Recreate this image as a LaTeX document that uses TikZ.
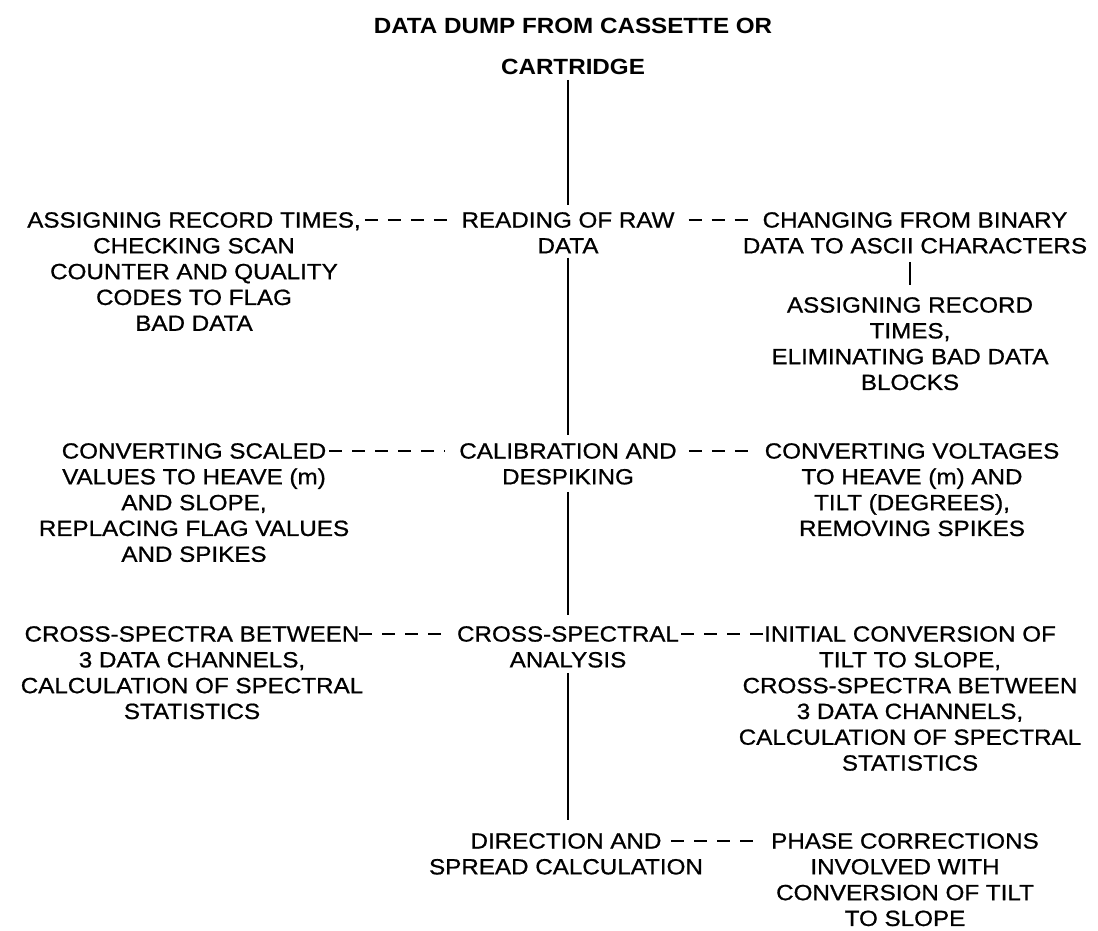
\documentclass[tikz,border=0pt]{standalone}
\usepackage{fontspec}
\setmainfont{Liberation Sans}[FakeStretch=1.1,UprightFeatures={FakeBold=0.8}]

\begin{document}
\begin{tikzpicture}[x=1pt,y=-1pt,
    proc/.style={anchor=north,align=center,font={\fontsize{22}{25.8}\selectfont}},
    dumptitle/.style={anchor=north,align=center,font={\fontsize{22}{41}\selectfont\bfseries}},
    flow/.style={black,line width=2.4pt},
    link/.style={black,line width=2.2pt,dash pattern=on 13pt off 10pt}]
    \tikzstyle{every node}+=[inner sep=0pt]
    \useasboundingbox (0,0) rectangle (1098,930);
    \node [dumptitle] (dump) at (573,18) {DATA DUMP FROM CASSETTE OR\\CARTRIDGE};
    \node [proc] (asgn) at (194,212) {ASSIGNING RECORD TIMES,\\CHECKING SCAN\\COUNTER AND QUALITY\\CODES TO FLAG\\BAD DATA};
    \node [proc] (raw) at (568,212) {READING OF RAW\\DATA};
    \node [proc] (binary) at (915,212) {CHANGING FROM BINARY\\DATA TO ASCII CHARACTERS};
    \node [proc] (times) at (910,297) {ASSIGNING RECORD\\TIMES,\\ELIMINATING BAD DATA\\BLOCKS};
    \node [proc] (scaled) at (194,443) {CONVERTING SCALED\\VALUES TO HEAVE (m)\\AND SLOPE,\\REPLACING FLAG VALUES\\AND SPIKES};
    \node [proc] (calib) at (568,443) {CALIBRATION AND\\DESPIKING};
    \node [proc] (volt) at (912,443) {CONVERTING VOLTAGES\\TO HEAVE (m) AND\\TILT (DEGREES),\\REMOVING SPIKES};
    \node [proc] (xspec) at (192,626) {CROSS-SPECTRA BETWEEN\\3 DATA CHANNELS,\\CALCULATION OF SPECTRAL\\STATISTICS};
    \node [proc] (spectral) at (568,626) {CROSS-SPECTRAL\\ANALYSIS};
    \node [proc] (tilt) at (910,626) {INITIAL CONVERSION OF\\TILT TO SLOPE,\\CROSS-SPECTRA BETWEEN\\3 DATA CHANNELS,\\CALCULATION OF SPECTRAL\\STATISTICS};
    \node [proc] (dir) at (566,833) {DIRECTION AND\\SPREAD CALCULATION};
    \node [proc] (phase) at (905,833) {PHASE CORRECTIONS\\INVOLVED WITH\\CONVERSION OF TILT\\TO SLOPE};
    \draw [flow,shorten <=5pt,shorten >=7pt] (dump.south -| raw.north) -- (raw.north);
    \draw [flow,shorten <=4pt,shorten >=8pt] (raw.south) -- (calib.north);
    \draw [flow,shorten <=7pt,shorten >=11pt] (calib.south) -- (spectral.north);
    \draw [flow,shorten <=5pt,shorten >=13pt] (spectral.south) -- (dir.north -| spectral.south);
    \draw [flow,shorten <=8pt,shorten >=12pt] (binary.south -| times.north) -- (times.north);
    \draw [link] ([xshift=4pt,yshift=-8pt]asgn.north east) -- ([xshift=-8pt,yshift=-8pt]raw.north west);
    \draw [link] ([xshift=14pt,yshift=-8pt]raw.north east) -- ([xshift=11pt,yshift=-8pt]binary.north west);
    \draw [link] ([xshift=-20pt,yshift=-8pt]scaled.north east) -- ([xshift=-14pt,yshift=-8pt]calib.north west);
    \draw [link] ([xshift=12pt,yshift=-8pt]calib.north east) -- ([xshift=-8pt,yshift=-8pt]volt.north west);
    \draw [link] ([xshift=-4pt,yshift=-8pt]xspec.north east) -- ([xshift=-8pt,yshift=-8pt]spectral.north west);
    \draw [link] ([xshift=2pt,yshift=-8pt]spectral.north east) -- ([xshift=24pt,yshift=-8pt]tilt.north west);
    \draw [link] ([xshift=-32pt,yshift=-8pt]dir.north east) -- ([xshift=-10pt,yshift=-8pt]phase.north west);
\end{tikzpicture}
\end{document}
